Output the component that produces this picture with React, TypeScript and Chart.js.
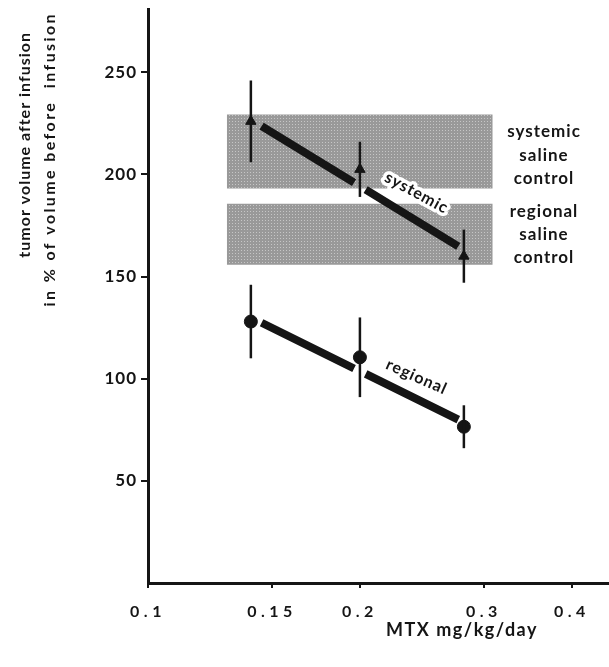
import React, { useEffect, useRef } from "react";
import { Chart, registerables } from "chart.js";

Chart.register(...registerables);

// ---- data ----
const xTicks = [0.1, 0.15, 0.2, 0.3, 0.4];
const yTicks = [50, 100, 150, 200, 250];

const doses = [0.14, 0.2, 0.281];
const systemicMean = [226, 202.5, 160];
const systemicSD = [20, 13.5, 13];
const regionalMean = [128, 110.5, 76.5];
const regionalSD = [18, 19.5, 10.5];

// regression lines (two segments each, broken at the middle point)
const fitX = [0.145, 0.1962, 0.2038, 0.2759];
const systemicFitY = [223.7, 196.0, 192.6, 164.8];
const regionalFitY = [127.4, 105.0, 102.4, 80.0];

// saline control bands
const bandX = [0.1294, 0.3088];
const systemicBand = [193.1, 229.4];
const regionalBand = [155.8, 185.7];

const FONT = "Lato, 'DejaVu Sans', sans-serif";
const INK = "#151515";

function fitData(ys: number[]) {
  return [
    { x: fitX[0], y: ys[0] },
    { x: fitX[1], y: ys[1] },
    { x: fitX[1], y: null },
    { x: fitX[2], y: ys[2] },
    { x: fitX[3], y: ys[3] },
  ];
}

function makePattern(): CanvasPattern | string {
  const c = document.createElement("canvas");
  c.width = 3;
  c.height = 3;
  const g = c.getContext("2d");
  if (!g) return "#9e9e9e";
  g.fillStyle = "#999999";
  g.fillRect(0, 0, 3, 3);
  g.fillStyle = "#c6c6c6";
  g.fillRect(1, 1, 1, 1);
  const p = g.createPattern(c, "repeat");
  return p || "#9e9e9e";
}

const annotations = {
  id: "annotations",
  beforeDraw(chart: any) {
    chart.ctx.letterSpacing = "1px";
  },
  afterDatasetsDraw(chart: any) {
    const ctx = chart.ctx;
    const xs = chart.scales.x;
    const ys = chart.scales.y;
    ctx.save();
    ctx.strokeStyle = INK;
    ctx.lineWidth = 2.5;
    const bars = (means: number[], sds: number[]) => {
      means.forEach((m, i) => {
        const px = xs.getPixelForValue(doses[i]);
        ctx.beginPath();
        ctx.moveTo(px, ys.getPixelForValue(m + sds[i]));
        ctx.lineTo(px, ys.getPixelForValue(m - sds[i]));
        ctx.stroke();
      });
    };
    bars(systemicMean, systemicSD);
    bars(regionalMean, regionalSD);
    ctx.restore();
    // x tick labels (drawn after datasets) are widely spaced
    ctx.letterSpacing = "4.5px";
  },
  afterDraw(chart: any) {
    const ctx = chart.ctx;
    const xs = chart.scales.x;
    const ys = chart.scales.y;
    ctx.save();
    ctx.fillStyle = INK;

    // y axis title (two rotated lines, top aligned)
    ctx.font = `bold 16px ${FONT}`;
    ctx.textBaseline = "middle";
    ctx.textAlign = "right";
    ctx.letterSpacing = "1px";
    ctx.save();
    ctx.translate(25, 32);
    ctx.rotate(-Math.PI / 2);
    ctx.fillText("tumor volume after infusion", 0, 0);
    ctx.restore();
    ctx.letterSpacing = "2.4px";
    ctx.save();
    ctx.translate(50, 12);
    ctx.rotate(-Math.PI / 2);
    ctx.fillText("in % of volume before  infusion", 0, 0);
    ctx.restore();

    // x axis title
    ctx.font = `bold 18px ${FONT}`;
    ctx.letterSpacing = "1.5px";
    ctx.textAlign = "center";
    ctx.textBaseline = "middle";
    ctx.fillText("MTX mg/kg/day", 462, 630);

    // saline control labels
    ctx.font = `bold 17px ${FONT}`;
    ctx.letterSpacing = "1px";
    ctx.textBaseline = "alphabetic";
    const lx = 544;
    ["systemic", "saline", "control"].forEach((t, i) =>
      ctx.fillText(t, lx, 137 + i * 23.5)
    );
    ["regional", "saline", "control"].forEach((t, i) =>
      ctx.fillText(t, lx, 217 + i * 23)
    );

    // rotated series labels
    const rotLabel = (t: string, xv: number, yv: number, deg: number) => {
      ctx.save();
      ctx.translate(xs.getPixelForValue(xv), ys.getPixelForValue(yv));
      ctx.rotate((deg * Math.PI) / 180);
      ctx.textAlign = "center";
      ctx.textBaseline = "middle";
      ctx.font = `bold 16px ${FONT}`;
      ctx.lineJoin = "round";
      ctx.strokeStyle = "#ffffff";
      ctx.lineWidth = 7;
      ctx.strokeText(t, 0, 0);
      ctx.fillStyle = INK;
      ctx.fillText(t, 0, 0);
      ctx.restore();
    };
    rotLabel("systemic", 0.2408, 191, 28.5);
    rotLabel("regional", 0.2408, 100.9, 24);

    ctx.restore();
    ctx.letterSpacing = "0px";
  },
};

export default function App() {
  const ref = useRef<HTMLCanvasElement | null>(null);

  useEffect(() => {
    document.body.style.margin = "0";
    const canvas = ref.current;
    if (!canvas) return;
    const pattern = makePattern();

    const chart = new Chart(canvas, {
      type: "line",
      data: {
        datasets: [
          {
            label: "systemic",
            data: doses.map((d, i) => ({ x: d, y: systemicMean[i] })),
            showLine: false,
            pointStyle: "triangle",
            pointRadius: 6,
            backgroundColor: INK,
            borderColor: INK,
            borderWidth: 1,
            order: 0,
          },
          {
            label: "regional",
            data: doses.map((d, i) => ({ x: d, y: regionalMean[i] })),
            showLine: false,
            pointStyle: "circle",
            pointRadius: 6.5,
            backgroundColor: INK,
            borderColor: INK,
            borderWidth: 1,
            order: 0,
          },
          {
            label: "systemic fit",
            data: fitData(systemicFitY),
            borderColor: INK,
            borderWidth: 8,
            borderCapStyle: "butt",
            pointRadius: 0,
            spanGaps: false,
            fill: false,
            order: 1,
          },
          {
            label: "regional fit",
            data: fitData(regionalFitY),
            borderColor: INK,
            borderWidth: 8,
            borderCapStyle: "butt",
            pointRadius: 0,
            spanGaps: false,
            fill: false,
            order: 1,
          },
          {
            label: "systemic saline top",
            data: bandX.map((x) => ({ x, y: systemicBand[1] })),
            borderWidth: 0,
            borderColor: "rgba(0,0,0,0)",
            pointRadius: 0,
            fill: "+1",
            backgroundColor: pattern as any,
            order: 10,
          },
          {
            label: "systemic saline bottom",
            data: bandX.map((x) => ({ x, y: systemicBand[0] })),
            borderWidth: 0,
            borderColor: "rgba(0,0,0,0)",
            pointRadius: 0,
            fill: false,
            order: 11,
          },
          {
            label: "regional saline top",
            data: bandX.map((x) => ({ x, y: regionalBand[1] })),
            borderWidth: 0,
            borderColor: "rgba(0,0,0,0)",
            pointRadius: 0,
            fill: "+1",
            backgroundColor: pattern as any,
            order: 12,
          },
          {
            label: "regional saline bottom",
            data: bandX.map((x) => ({ x, y: regionalBand[0] })),
            borderWidth: 0,
            borderColor: "rgba(0,0,0,0)",
            pointRadius: 0,
            fill: false,
            order: 13,
          },
        ],
      },
      options: {
        animation: false,
        responsive: false,
        layout: {
          autoPadding: false,
          padding: { top: 9, left: 0, right: 0, bottom: 0 },
        },
        plugins: {
          legend: { display: false },
          tooltip: { enabled: false },
        },
        scales: {
          x: {
            type: "logarithmic",
            min: 0.1,
            max: 0.4517,
            afterBuildTicks: (s: any) => {
              s.ticks = xTicks.map((v) => ({ value: v }));
            },
            afterFit: (s: any) => {
              s.height = 84;
              s.paddingLeft = 0;
              s.paddingRight = 0;
            },
            ticks: {
              callback: (v: any) => String(v),
              color: INK,
              font: { family: FONT, size: 16, weight: "bold" },
              padding: 14,
              maxRotation: 0,
              autoSkip: false,
              z: 1,
            },
            grid: {
              drawOnChartArea: false,
              drawTicks: true,
              tickLength: 5,
              color: INK,
              lineWidth: 2,
            },
            border: { color: INK, width: 3 },
          },
          y: {
            type: "linear",
            min: 0,
            max: 281,
            afterBuildTicks: (s: any) => {
              s.ticks = yTicks.map((v) => ({ value: v }));
            },
            afterFit: (s: any) => {
              s.width = 148;
              s.paddingTop = 0;
              s.paddingBottom = 0;
            },
            ticks: {
              color: INK,
              font: { family: FONT, size: 17, weight: "bold" },
              padding: 4,
            },
            grid: {
              drawOnChartArea: false,
              drawTicks: true,
              tickLength: 7,
              color: INK,
              lineWidth: 2,
            },
            border: { color: INK, width: 3 },
          },
        },
      },
      plugins: [annotations],
    } as any);

    return () => chart.destroy();
  }, []);

  return (
    <div style={{ width: 609, height: 667, background: "#fff" }}>
      <canvas ref={ref} width={609} height={667} style={{ display: "block" }} />
    </div>
  );
}
